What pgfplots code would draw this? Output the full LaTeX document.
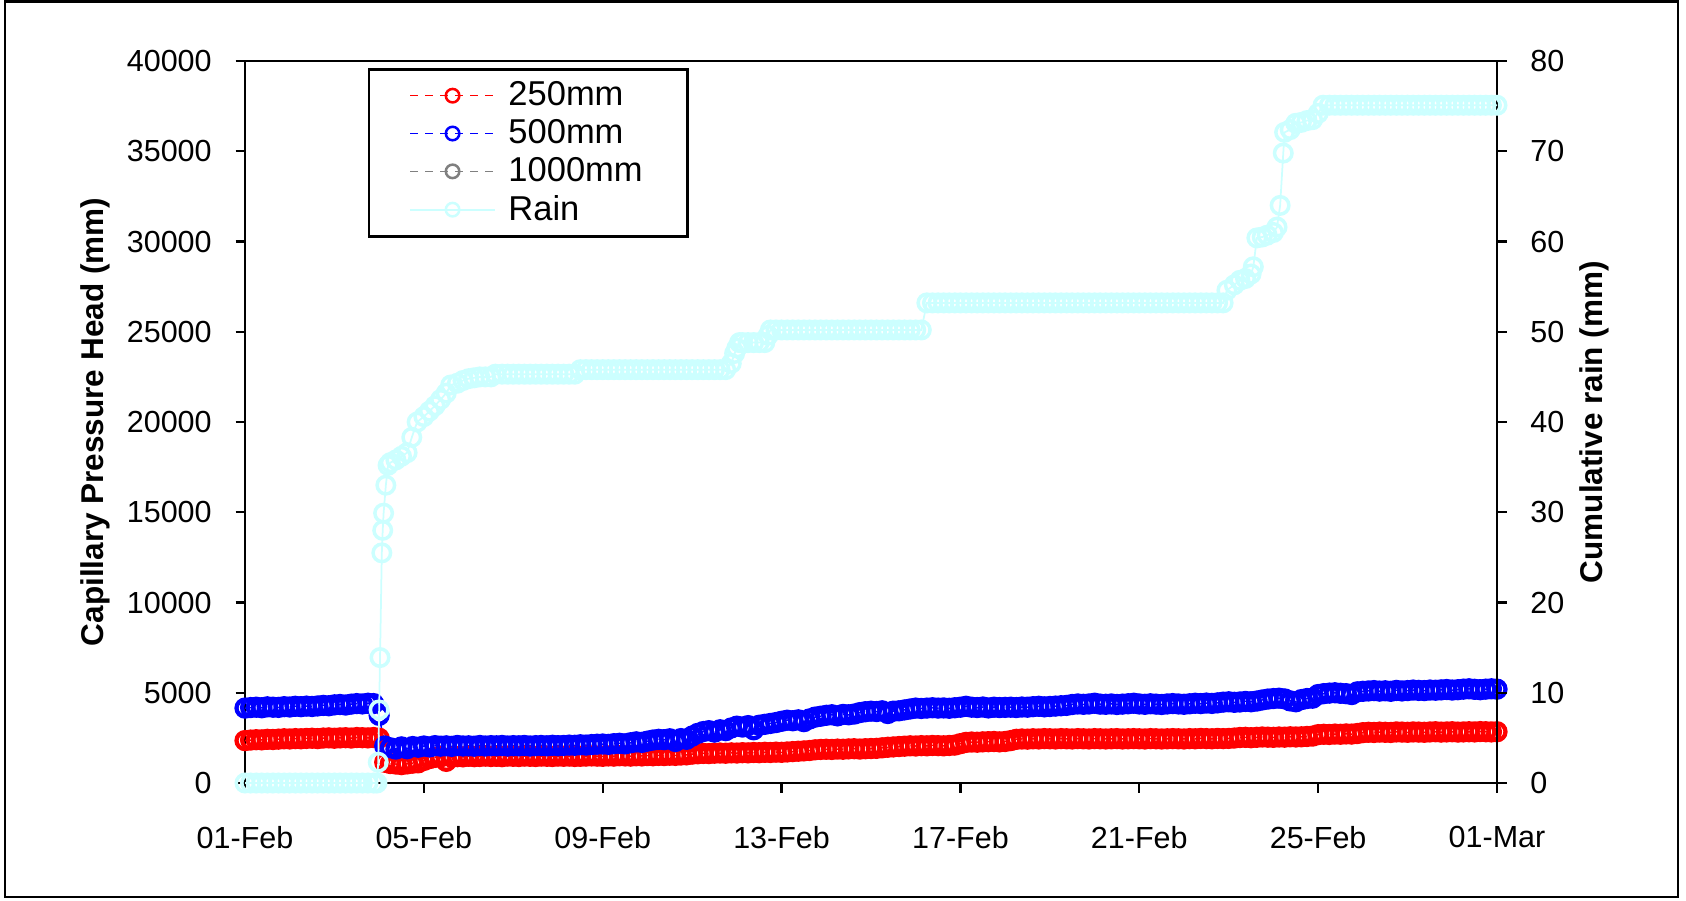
\documentclass[border=0pt]{standalone}
\usepackage{fontspec}
\setmainfont{Liberation Sans}
\usepackage{pgfplots}
\usepackage{pgfplotstable}
\pgfplotsset{compat=1.18}
\definecolor{raincol}{RGB}{204,255,255}
\definecolor{graycol}{RGB}{128,128,128}

% Capillary pressure head at two depths (days since 01-Feb, mm)
\pgfplotstableread{
d p250 p500
0 2350 4150
0.125 2380 4180
0.25 2400 4200
0.375 2390 4170
0.5 2420 4220
0.625 2410 4200
0.75 2430 4190
0.875 2450 4230
1 2440 4210
1.125 2460 4250
1.25 2450 4230
1.375 2470 4260
1.5 2480 4240
1.625 2460 4270
1.75 2490 4300
1.875 2500 4280
2 2480 4330
2.125 2500 4350
2.25 2510 4320
2.375 2490 4370
2.5 2520 4400
2.625 2510 4380
2.75 2500 4420
2.875 2520 4400
3 2480 3750
3.125 1150 2050
3.25 1080 1950
3.375 1050 1880
3.5 1020 2000
3.625 1060 1900
3.75 1100 2020
3.875 1120 1980
4 1250 2050
4.125 1350 2000
4.25 1420 2070
4.375 1450 2040
4.5 1200 2060
4.625 1430 2030
4.75 1460 2080
4.875 1450 2050
5 1480 2060
5.125 1460 2040
5.25 1470 2080
5.375 1490 2050
5.5 1470 2070
5.625 1480 2060
5.75 1460 2080
5.875 1490 2050
6 1480 2070
6.125 1470 2060
6.25 1490 2080
6.375 1480 2050
6.5 1470 2070
6.625 1490 2080
6.75 1480 2060
6.875 1470 2090
7 1490 2070
7.125 1480 2080
7.25 1490 2100
7.375 1470 2090
7.5 1480 2120
7.625 1490 2100
7.75 1500 2130
7.875 1490 2150
8 1480 2160
8.125 1500 2140
8.25 1490 2180
8.375 1510 2200
8.5 1500 2170
8.625 1490 2230
8.75 1510 2280
8.875 1500 2250
9 1520 2320
9.125 1510 2380
9.25 1530 2420
9.375 1520 2400
9.5 1540 2450
9.625 1530 2300
9.75 1550 2460
9.875 1560 2420
10 1600 2600
10.125 1620 2750
10.25 1640 2850
10.375 1630 2900
10.5 1650 2820
10.625 1660 2950
10.75 1650 2900
10.875 1670 3050
11 1660 3150
11.125 1680 3100
11.25 1670 3180
11.375 1690 2950
11.5 1680 3200
11.625 1700 3250
11.75 1690 3300
11.875 1710 3350
12 1700 3420
12.125 1720 3480
12.25 1740 3450
12.375 1760 3500
12.5 1780 3400
12.625 1800 3550
12.75 1840 3650
12.875 1860 3700
13 1870 3750
13.125 1860 3780
13.25 1880 3720
13.375 1870 3800
13.5 1890 3780
13.625 1900 3820
13.75 1880 3900
13.875 1900 3950
14 1910 3980
14.125 1920 3960
14.25 1950 4000
14.375 1980 3850
14.5 2000 3980
14.625 2020 4000
14.75 2040 4050
14.875 2060 4100
15 2050 4150
15.125 2070 4130
15.25 2060 4150
15.375 2080 4170
15.5 2070 4150
15.625 2060 4160
15.75 2080 4140
15.875 2100 4170
16 2180 4200
16.125 2250 4250
16.25 2270 4200
16.375 2260 4180
16.5 2280 4210
16.625 2290 4160
16.75 2300 4200
16.875 2280 4180
17 2300 4190
17.125 2350 4200
17.25 2420 4180
17.375 2440 4210
17.5 2430 4200
17.625 2450 4230
17.75 2440 4250
17.875 2460 4220
18 2450 4240
18.125 2440 4260
18.25 2460 4280
18.375 2450 4300
18.5 2440 4350
18.625 2460 4380
18.75 2450 4360
18.875 2440 4380
19 2460 4420
19.125 2450 4370
19.25 2440 4360
19.375 2450 4380
19.5 2460 4350
19.625 2440 4370
19.75 2450 4390
19.875 2460 4420
20 2450 4380
20.125 2440 4360
20.25 2460 4390
20.375 2450 4370
20.5 2440 4350
20.625 2450 4380
20.75 2460 4400
20.875 2450 4380
21 2440 4360
21.125 2460 4390
21.25 2450 4420
21.375 2470 4400
21.5 2460 4430
21.625 2450 4410
21.75 2470 4440
21.875 2460 4480
22 2470 4500
22.125 2490 4470
22.25 2520 4490
22.375 2530 4520
22.5 2510 4500
22.625 2530 4540
22.75 2550 4600
22.875 2540 4650
23 2530 4680
23.125 2550 4700
23.25 2540 4660
23.375 2560 4550
23.5 2550 4500
23.625 2560 4620
23.75 2580 4680
23.875 2600 4700
24 2680 4900
24.125 2700 4950
24.25 2690 4980
24.375 2710 5000
24.5 2700 4970
24.625 2720 4950
24.75 2710 4900
24.875 2740 5050
25 2790 5080
25.125 2810 5100
25.25 2800 5120
25.375 2820 5090
25.5 2810 5110
25.625 2800 5080
25.75 2830 5130
25.875 2820 5100
26 2810 5120
26.125 2830 5150
26.25 2820 5130
26.375 2810 5120
26.5 2830 5150
26.625 2840 5140
26.75 2820 5160
26.875 2830 5180
27 2840 5150
27.125 2820 5170
27.25 2830 5200
27.375 2840 5220
27.5 2830 5190
27.625 2850 5170
27.75 2840 5200
27.875 2830 5220
28 2840 5200
}\probes

% Cumulative rainfall (days since 01-Feb, mm)
\pgfplotstableread{
d rain
0 0
0.125 0
0.25 0
0.375 0
0.5 0
0.625 0
0.75 0
0.875 0
1 0
1.125 0
1.25 0
1.375 0
1.5 0
1.625 0
1.75 0
1.875 0
2 0
2.125 0
2.25 0
2.375 0
2.5 0
2.625 0
2.75 0
2.875 0
2.95 0
2.98 2.3
3.0 8.1
3.02 13.9
3.06 25.5
3.08 28.0
3.10 29.9
3.15 33.0
3.20 35.2
3.25 35.5
3.375 35.8
3.5 36.2
3.625 36.6
3.73 38.3
3.85 40.0
4.0 40.6
4.125 41.2
4.25 41.8
4.375 42.5
4.5 43.2
4.6 44.1
4.75 44.3
4.875 44.6
5.0 44.8
5.125 44.9
5.25 45.0
5.375 45.0
5.5 45.0
5.6 45.3
5.75 45.3
5.875 45.3
6 45.3
6.125 45.3
6.25 45.3
6.375 45.3
6.5 45.3
6.625 45.3
6.75 45.3
6.875 45.3
7 45.3
7.125 45.3
7.25 45.3
7.375 45.3
7.5 45.8
7.625 45.8
7.75 45.8
7.875 45.8
8 45.8
8.125 45.8
8.25 45.8
8.375 45.8
8.5 45.8
8.625 45.8
8.75 45.8
8.875 45.8
9 45.8
9.125 45.8
9.25 45.8
9.375 45.8
9.5 45.8
9.625 45.8
9.75 45.8
9.875 45.8
10 45.8
10.125 45.8
10.25 45.8
10.375 45.8
10.5 45.8
10.625 45.8
10.75 45.8
10.875 46.5
10.95 47.6
11.0 48.2
11.06 48.8
11.125 48.8
11.25 48.8
11.375 48.8
11.5 48.8
11.625 48.8
11.7 49.6
11.75 50.2
11.875 50.2
12 50.2
12.125 50.2
12.25 50.2
12.375 50.2
12.5 50.2
12.625 50.2
12.75 50.2
12.875 50.2
13 50.2
13.125 50.2
13.25 50.2
13.375 50.2
13.5 50.2
13.625 50.2
13.75 50.2
13.875 50.2
14 50.2
14.125 50.2
14.25 50.2
14.375 50.2
14.5 50.2
14.625 50.2
14.75 50.2
14.875 50.2
15 50.2
15.125 50.2
15.25 53.2
15.375 53.2
15.5 53.2
15.625 53.2
15.75 53.2
15.875 53.2
16 53.2
16.125 53.2
16.25 53.2
16.375 53.2
16.5 53.2
16.625 53.2
16.75 53.2
16.875 53.2
17 53.2
17.125 53.2
17.25 53.2
17.375 53.2
17.5 53.2
17.625 53.2
17.75 53.2
17.875 53.2
18 53.2
18.125 53.2
18.25 53.2
18.375 53.2
18.5 53.2
18.625 53.2
18.75 53.2
18.875 53.2
19 53.2
19.125 53.2
19.25 53.2
19.375 53.2
19.5 53.2
19.625 53.2
19.75 53.2
19.875 53.2
20 53.2
20.125 53.2
20.25 53.2
20.375 53.2
20.5 53.2
20.625 53.2
20.75 53.2
20.875 53.2
21 53.2
21.125 53.2
21.25 53.2
21.375 53.2
21.5 53.2
21.625 53.2
21.75 53.2
21.875 53.2
21.96 54.6
22.125 55.2
22.25 55.7
22.375 55.9
22.5 56.4
22.55 57.2
22.63 60.4
22.75 60.5
22.86 60.7
23.0 61.0
23.08 61.6
23.15 64.0
23.22 69.8
23.25 72.1
23.375 72.4
23.5 73.1
23.625 73.2
23.75 73.4
23.875 73.5
24.0 74.2
24.11 75.1
24.25 75.1
24.375 75.1
24.5 75.1
24.625 75.1
24.75 75.1
24.875 75.1
25 75.1
25.125 75.1
25.25 75.1
25.375 75.1
25.5 75.1
25.625 75.1
25.75 75.1
25.875 75.1
26 75.1
26.125 75.1
26.25 75.1
26.375 75.1
26.5 75.1
26.625 75.1
26.75 75.1
26.875 75.1
27 75.1
27.125 75.1
27.25 75.1
27.375 75.1
27.5 75.1
27.625 75.1
27.75 75.1
27.875 75.1
28 75.1
}\rainfall

\pgfplotsset{
  common/.style={
    scale only axis, width=500.8pt, height=288.8pt,
    at={(98pt,46.8pt)}, anchor=south west,
    xmin=0, xmax=28, clip=false,
    tick align=outside, major tick length=3.8pt,
    axis line style={line width=0.9pt},
    tick style={line width=0.9pt, black},
    tick label style={font=\fontsize{12.2}{14}\selectfont},
    label style={font=\bfseries\fontsize{12.6}{15}\selectfont},
    /pgf/number format/assume math mode=true,
    /pgf/number format/1000 sep={},
  },
  probe/.style={#1, dashed, line width=0.6pt, mark=o, mark size=3.4pt,
    mark options={solid, line width=1.7pt}},
  legend image code/.code={%
    \draw[mark repeat=2, mark phase=2, #1, mark size=2.7pt,
      mark options={solid, line width=1pt}]
      plot coordinates {(0pt,0pt) (17pt,0pt) (34pt,0pt)};},
}

\begin{document}
\begin{tikzpicture}
\useasboundingbox (0,0) rectangle (674.4pt,360pt);
\draw[line width=1.1pt] (2pt,1.2pt) rectangle (671.2pt,359.4pt);

\begin{axis}[common,
  ymin=0, ymax=40000, ytick={0,5000,...,40000}, scaled y ticks=false,
  xtick={0,4,...,28},
  xticklabels={01-Feb,05-Feb,09-Feb,13-Feb,17-Feb,21-Feb,25-Feb,01-Mar},
  xtick pos=bottom, ytick pos=left,
  yticklabel style={xshift=-6pt},
  xticklabel style={yshift=-10pt},
  ylabel={Capillary Pressure Head (mm)},
  ylabel style={at={(axis description cs:-0.1198,0.5)}, anchor=center},
  legend cell align=left,
  legend style={at={(axis description cs:0.0982,0.9903)}, anchor=north west,
    draw=black, line width=1pt, font=\fontsize{13.8}{15}\selectfont,
    inner xsep=16pt, inner ysep=3pt,
    /tikz/every odd column/.append style={column sep=3pt}},
]
\addplot[probe=red] table[x=d, y=p250]{\probes};
\addlegendentry{250mm}
\addplot[probe=blue] table[x=d, y=p500]{\probes};
\addlegendentry{500mm}
\addlegendimage{probe=graycol}
\addlegendentry{1000mm}
\addlegendimage{raincol, line width=0.7pt, mark=o}
\addlegendentry{Rain}
\end{axis}

\begin{axis}[common,
  ymin=0, ymax=80, ytick={0,10,...,80},
  axis x line=none, axis y line*=right,
  yticklabel style={xshift=6pt},
  ylabel={Cumulative rain (mm)},
  ylabel style={at={(axis description cs:1.0775,0.5)}, anchor=center},
]
\addplot[raincol, line width=0.7pt, mark=o, mark size=3.5pt,
  mark options={solid, line width=1.4pt}] table[x=d, y=rain]{\rainfall};
\end{axis}
\end{tikzpicture}
\end{document}
